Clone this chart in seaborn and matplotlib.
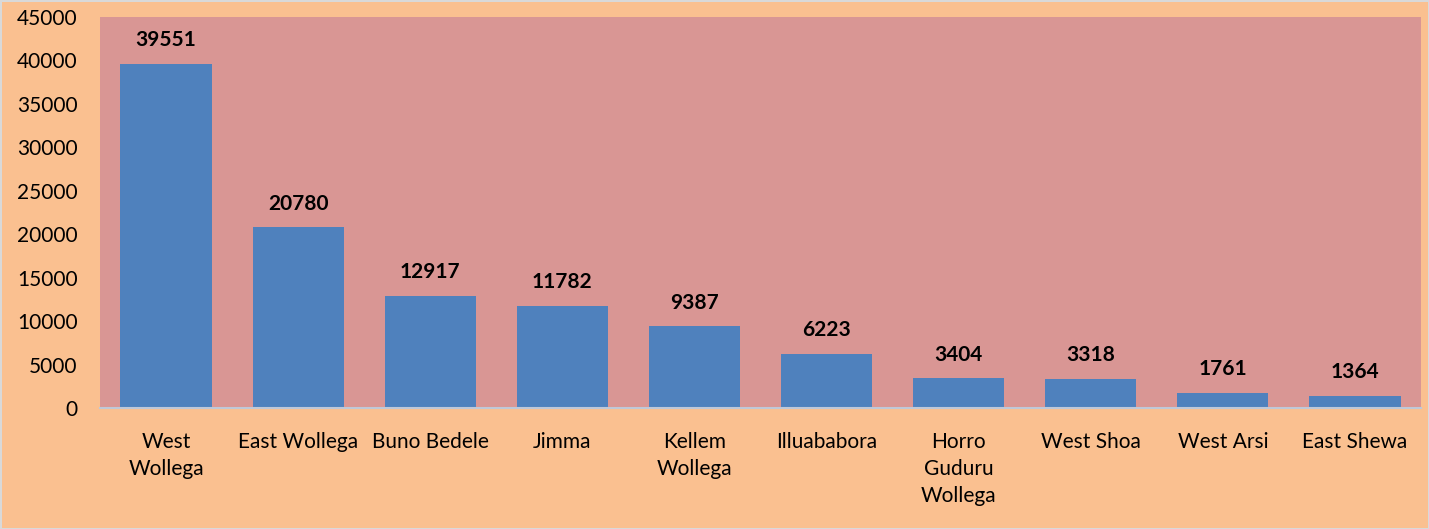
import matplotlib
matplotlib.use("Agg")
import matplotlib.pyplot as plt
import seaborn as sns
import pandas as pd
import numpy as np

zones = ["West\nWollega", "East Wollega", "Buno Bedele", "Jimma", "Kellem\nWollega",
         "Illuababora", "Horro\nGuduru\nWollega", "West Shoa", "West Arsi", "East Shewa"]
counts = [39551, 20780, 12917, 11782, 9387, 6223, 3404, 3318, 1761, 1364]

df = pd.DataFrame({"Zone": zones, "Count": counts})

sns.set_style("white")
plt.rcParams["font.family"] = ["Lato", "DejaVu Sans"]
plt.rcParams["text.color"] = "black"
plt.rcParams["xtick.color"] = "black"
plt.rcParams["ytick.color"] = "black"

fig = plt.figure(figsize=(14.29, 5.29), dpi=100, facecolor="#FAC090",
                 edgecolor="#D9D9D9", linewidth=2)
ax = fig.add_axes([100 / 1429, 1 - 408 / 529, 1321 / 1429, 391 / 529])
ax.set_facecolor("#D99694")

sns.barplot(data=df, x="Zone", y="Count", color="#4F81BD", saturation=1,
            width=0.69, linewidth=0, ax=ax)

for i, v in enumerate(counts):
    ax.annotate(str(v), (i, v), xytext=(0, 10), textcoords="offset points",
                ha="center", va="bottom", fontsize=15, fontweight="bold")

ax.set_ylim(0, 45000)
ax.set_xlim(-0.5, len(zones) - 0.5)
ax.set_yticks(np.arange(0, 45001, 5000))
ax.tick_params(axis="y", labelsize=15, length=0, pad=16)
ax.tick_params(axis="x", labelsize=15, length=0, pad=17)
for lbl in ax.get_xticklabels():
    lbl.set_linespacing(1.45)
ax.set_xlabel("")
ax.set_ylabel("")
for s in ["top", "right", "left"]:
    ax.spines[s].set_visible(False)
ax.spines["bottom"].set_color("#BFC8D8")
ax.spines["bottom"].set_linewidth(1.5)

plt.savefig("out.png", dpi=100, facecolor=fig.get_facecolor(), edgecolor=fig.get_edgecolor())
